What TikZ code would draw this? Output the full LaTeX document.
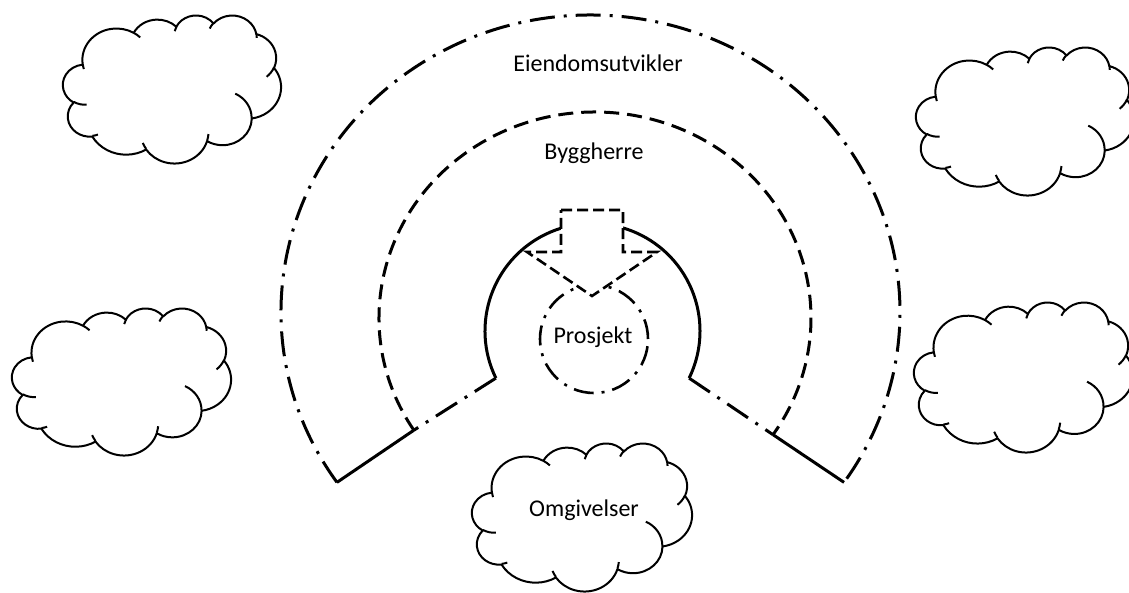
\documentclass[tikz,border=0pt]{standalone}
\usepackage{fontspec}
\setmainfont{Carlito}
% one arc of a cloud outline: x radius, y radius, visual start angle, sweep
\newcommand\wcarc[4]{arc[x radius=#1, y radius=#2,
  start angle={atan2(#1*sin(#3),#2*cos(#3))},
  delta angle={Mod(atan2(#1*sin(#3+#4),#2*cos(#3+#4))-atan2(#1*sin(#3),#2*cos(#3)),360)}]}
% cloud in the box with top-left corner (#1,#2), width #3, height #4
\newcommand\cloudbox[4]{%
  \pgfmathsetmacro\cwx{#3/432}\pgfmathsetmacro\cwy{#4/432}%
  \begin{scope}[shift={(#1,#2)}, x=\cwx pt, y=-\cwy pt]
    \draw[cloudline, fill=white] (39,143.7)
      \wcarc{67.53}{91.90}{-190.487483}{123.780533}
      \wcarc{53.33}{72.67}{-144.102383}{89.945233}
      \wcarc{43.65}{59.45}{-145.807917}{99.723017}
      \wcarc{48.57}{65.95}{-130.986067}{117.241733}
      \wcarc{53.33}{72.73}{-78.708883}{109.026917}
      \wcarc{67.75}{92.20}{-46.26725}{130.269}
      \wcarc{57.85}{78.67}{0.625017}{114.033333}
      \wcarc{67.52}{92.15}{22.4516}{115.17255}
      \wcarc{77.20}{105.43}{66.242633}{75.711017}
      \wcarc{43.60}{59.18}{-274.942083}{146.735567}
      \wcarc{43.45}{59.45}{-246.8285}{152.51885}
      -- cycle;
    \draw[cloudline]
      (46.93,261.77) \wcarc{43.45}{59.45}{86.742}{26.4295}
      (69.28,348.99) \wcarc{43.60}{59.18}{73.61047}{11.44747}
      (164.78,390.90) \wcarc{67.52}{92.15}{137.62415}{14.0811}
      (288.27,347.51) \wcarc{67.52}{92.15}{6.45327}{15.99835}
      (341.29,229.54) \wcarc{57.85}{78.67}{-70.29235}{70.91737}
      (417.98,153.54) \wcarc{53.33}{72.73}{30.31803}{27.7515}
      (383.24,54.26) \wcarc{48.57}{65.95}{-13.74433}{14.8589}
      (290.78,39.52) \wcarc{48.57}{65.95}{-149.18145}{18.19537}
      (221.41,47.20) \wcarc{43.65}{59.45}{-163.49427}{17.68635}
      (140.00,51.92) \wcarc{67.53}{91.90}{-66.70695}{12.31935}
      (41.27,157.89) \wcarc{67.53}{91.90}{157.65435}{11.85817};
  \end{scope}}
\begin{document}
\begin{tikzpicture}[x=1pt, y=-1pt,
  cloudline/.style={line width=2pt, line join=round},
  dashdot/.style={line width=3pt, dash pattern=on 25pt off 9pt on 3pt off 9pt},
  ringdash/.style={line width=3pt, dash pattern=on 15pt off 8pt},
  solidline/.style={line width=3pt},
  smalldashdot/.style={line width=2.6pt, dash pattern=on 20pt off 8pt on 3pt off 8pt},
  arrowdash/.style={line width=2.6pt, dash pattern=on 11pt off 5pt, fill=white},
  lbl/.style={font=\fontsize{24}{28}\selectfont, inner sep=0pt}]
\useasboundingbox (0,0) rectangle (1129,592);
\fill[white] (0,0) rectangle (1129,592);

% centres of the three rings
\coordinate (oc) at (590.5,312);
\coordinate (dc) at (595,318);
\coordinate (ic) at (592.5,331);

% ring end points
\path (oc) ++(145:309.5 and 297) coordinate (oL);
\path (oc) ++(35:309.5 and 297) coordinate (oR);
\path (dc) ++(147:216 and 206) coordinate (dL);
\path (dc) ++(34.5:216 and 206) coordinate (dR);
\path (ic) ++(154:107.5) coordinate (iL);
\path (ic) ++(26:107.5) coordinate (iR);

% outer ring (dash-dot)
\draw[dashdot] (oL) arc[start angle=145, end angle=395, x radius=309.5, y radius=297];
% middle ring (dashed)
\draw[ringdash] (dL) arc[start angle=147, end angle=394.5, x radius=216, y radius=206];
% inner ring (solid)
\draw[solidline] (iL) arc[start angle=154, end angle=386, radius=107.5];

% radial edges
\draw[dashdot] (iL) -- (dL);
\draw[solidline] (dL) -- (oL);
\draw[dashdot] (iR) -- (dR);
\draw[solidline] (dR) -- (oR);

% project circle
\node[circle, draw, smalldashdot, minimum size=108pt, inner sep=0pt] (prosjekt) at (594,339) {};
\node[lbl] (prosjektlbl) at (593,337) {Prosjekt};

% block arrow pointing down into the project
\draw[arrowdash] (561,210) -- (623,210) -- (623,252) -- (657,252) -- (592,296)
  -- (527,252) -- (561,252) -- cycle;

% ring labels
\node[lbl] (eiendom) at (598,63) {Eiendomsutvikler};
\node[lbl] (byggherre) at (594,153) {Byggherre};

% surrounding clouds
\cloudbox{63}{15}{218}{148}
\cloudbox{916}{47}{218}{148}
\cloudbox{12}{308}{219}{147}
\cloudbox{914}{302}{219}{150}
\cloudbox{472}{443}{220}{148}
\node[lbl] (omgivelser) at (584,510) {Omgivelser};
\end{tikzpicture}
\end{document}
